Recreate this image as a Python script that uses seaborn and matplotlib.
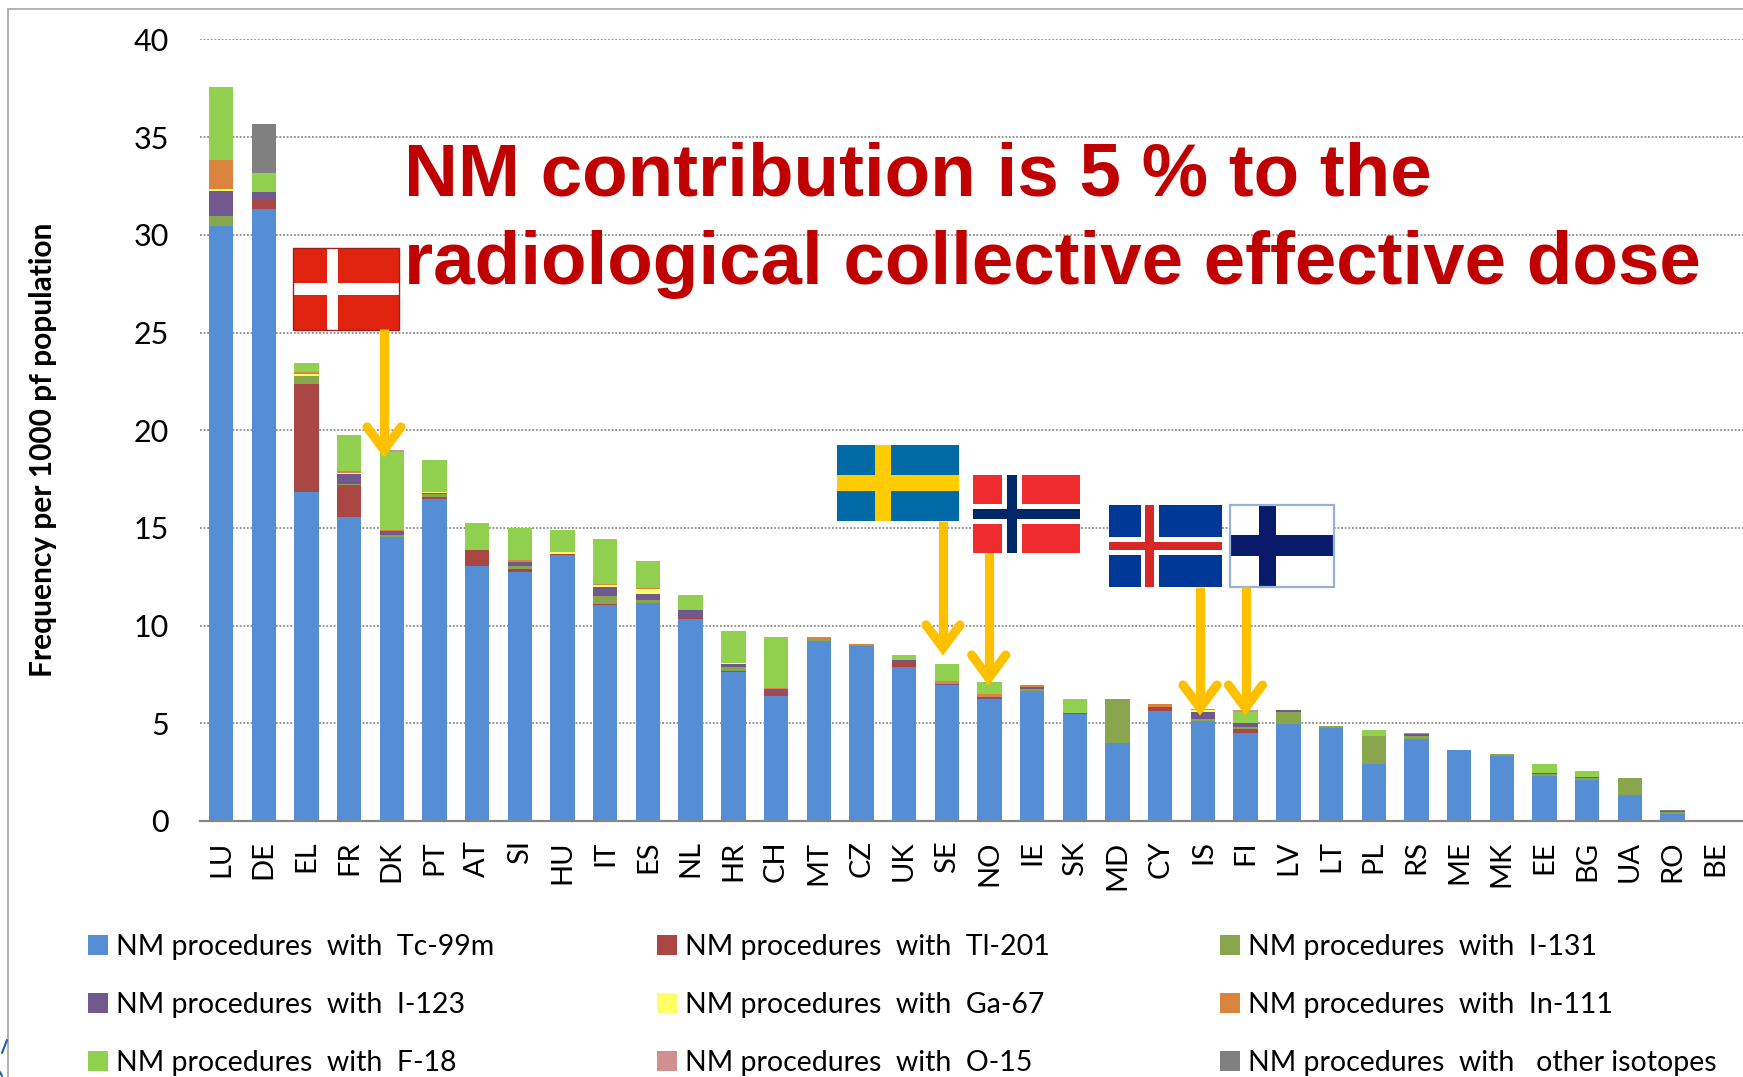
import numpy as np
import matplotlib
matplotlib.use("Agg")
import matplotlib.pyplot as plt
from matplotlib.lines import Line2D
from matplotlib.patches import Patch, Rectangle
from matplotlib.transforms import IdentityTransform
import seaborn as sns

countries = ["LU", "DE", "EL", "FR", "DK", "PT", "AT", "SI", "HU", "IT", "ES", "NL",
             "HR", "CH", "MT", "CZ", "UK", "SE", "NO", "IE", "SK", "MD", "CY", "IS",
             "FI", "LV", "LT", "PL", "RS", "ME", "MK", "EE", "BG", "UA", "RO", "BE"]

tc99m = [30.46, 31.32, 16.86, 15.57, 14.55, 16.49, 13.03, 12.74, 13.61, 11.07, 11.16, 10.35,
         7.6, 6.38, 9.19, 8.98, 7.9, 6.96, 6.24, 6.67, 5.48, 4.01, 5.61, 5.13,
         4.5, 4.95, 4.78, 2.92, 4.21, 3.63, 3.34, 2.32, 2.11, 1.31, 0.37, 0]
tl201 = [0, 0.49, 5.5, 1.63, 0, 0.07, 0.85, 0.16, 0.07, 0.06, 0, 0.06,
         0.08, 0.27, 0, 0, 0.31, 0, 0, 0, 0, 0, 0.24, 0,
         0.21, 0, 0, 0, 0, 0, 0, 0, 0, 0, 0, 0]
i131 = [0.5, 0, 0.41, 0.05, 0.08, 0.17, 0, 0.15, 0, 0.38, 0.15, 0,
        0.22, 0, 0.14, 0, 0, 0, 0, 0.06, 0, 2.23, 0, 0.09,
        0.1, 0.64, 0.08, 1.45, 0.16, 0, 0.09, 0.06, 0.07, 0.89, 0.07, 0]
i123 = [1.28, 0.38, 0, 0.5, 0.21, 0.05, 0, 0.2, 0, 0.49, 0.32, 0.39,
        0.13, 0.1, 0, 0, 0.04, 0.07, 0.12, 0.13, 0.05, 0, 0, 0.36,
        0.21, 0.09, 0, 0, 0.06, 0, 0, 0.08, 0.07, 0, 0.07, 0]
ga67 = [0.1, 0, 0.13, 0.08, 0, 0.07, 0, 0, 0.09, 0.08, 0.24, 0,
        0.08, 0, 0, 0, 0, 0, 0, 0, 0, 0, 0, 0.08,
        0, 0, 0, 0, 0, 0, 0, 0, 0, 0, 0, 0]
in111 = [1.51, 0, 0.1, 0.09, 0.07, 0, 0, 0.12, 0, 0.07, 0.06, 0,
         0, 0.07, 0.09, 0.07, 0, 0.13, 0.16, 0.1, 0, 0, 0.14, 0.07,
         0, 0, 0, 0, 0.07, 0, 0, 0, 0, 0, 0, 0]
f18 = [3.69, 0.97, 0.44, 1.81, 3.99, 1.6, 1.38, 1.62, 1.14, 2.26, 1.39, 0.79,
       1.59, 2.6, 0, 0, 0.23, 0.89, 0.59, 0, 0.71, 0, 0, 0,
       0.57, 0, 0, 0.28, 0, 0, 0, 0.46, 0.31, 0, 0, 0]
o15 = [0, 0, 0, 0, 0.08, 0, 0, 0, 0, 0, 0, 0,
       0, 0, 0, 0, 0, 0, 0, 0, 0, 0, 0, 0,
       0.09, 0, 0, 0, 0, 0, 0, 0, 0, 0, 0, 0]
other = [0, 2.51, 0, 0, 0, 0, 0, 0, 0, 0, 0, 0,
         0, 0, 0, 0, 0, 0, 0, 0, 0, 0, 0, 0,
         0, 0, 0, 0, 0, 0, 0, 0, 0, 0, 0.05, 0]

series = [tc99m, tl201, i131, i123, ga67, in111, f18, o15, other]
labels = ["NM procedures  with  Tc-99m", "NM procedures  with  Tl-201", "NM procedures  with  I-131",
          "NM procedures  with  I-123", "NM procedures  with  Ga-67", "NM procedures  with  In-111",
          "NM procedures  with  F-18", "NM procedures  with  O-15", "NM procedures  with   other isotopes"]
colors = ["#558ED5", "#AA4644", "#89A54E", "#71588F", "#FFFF66", "#DB843D", "#92D050", "#D09090", "#808080"]

W, H = 1743, 1077
sns.set_theme(style="white")
plt.rcParams["font.family"] = ["Lato", "DejaVu Sans"]

fig = plt.figure(figsize=(W / 100, H / 100), dpi=100)
ax = fig.add_axes([199.7 / W, 1 - 821 / H, (W - 199.7) / W, 781.6 / H])

bottom = np.zeros(len(countries))
for vals, col in zip(series, colors):
    sns.barplot(x=countries, y=vals, bottom=bottom, color=col, saturation=1, linewidth=0,
                width=0.57, errorbar=None, ax=ax, zorder=2)
    bottom = bottom + np.array(vals)

ax.set_xlim(-0.5, 35.65)
ax.set_ylim(0, 40)
ax.set_yticks(range(0, 41, 5))
ax.grid(axis="y", linestyle=(0, (1, 1)), color="#8c8c8c", lw=1.3)
ax.set_axisbelow(True)
for side in ["top", "right", "left"]:
    ax.spines[side].set_visible(False)
ax.spines["bottom"].set_color("#868686")
ax.spines["bottom"].set_linewidth(1.6)
ax.tick_params(axis="y", length=0, pad=22, labelsize=22, labelcolor="black")
ax.tick_params(axis="x", length=0, pad=14, labelsize=21, labelcolor="black", labelrotation=90)
ax.set_ylabel("Frequency per 1000 pf population", fontsize=21.5, fontweight="bold", color="black")
ax.yaxis.set_label_coords((57 - 199.7) / (W - 199.7), (821 - 450) / 781.6)

px = IdentityTransform()


def rect(x0, y0, x1, y1, col, **kw):
    # coords are image pixels, y going down
    fig.add_artist(Rectangle((x0, H - y1), x1 - x0, y1 - y0, transform=px, fc=col, ec="none", **kw))


def flag(box, bg, cross, outer=None, inner=None):
    rect(*box, bg)
    if inner:
        rect(inner[0], box[1], inner[1], box[3], outer)
        rect(box[0], inner[2], box[2], inner[3], outer)
    rect(cross[0], box[1], cross[1], box[3], cross[4])
    rect(box[0], cross[2], box[2], cross[3], cross[4])


def arrow(x, y0, tip):
    lw = 6.6
    fig.add_artist(Line2D([x, x], [H - y0, H - tip + 12], transform=px, color="#FFC000", lw=lw,
                          solid_capstyle="butt"))
    fig.add_artist(Line2D([x - 17, x, x + 17], [H - tip + 32, H - tip + 9, H - tip + 32], transform=px,
                          color="#FFC000", lw=lw, solid_capstyle="round", solid_joinstyle="miter"))


# arrows and flags pointing at the nordic countries
arrow(384, 329, 459)
arrow(943, 521, 657)
arrow(988.7, 553, 687)
arrow(1200, 587, 717)
arrow(1245.5, 587, 717)

flag((293, 248, 399, 330), "#E0230F", (326.7, 338.3, 283, 295, "white"))
fig.add_artist(Rectangle((293, H - 330), 106, 82, transform=px, fc="none", ec="#A02020", lw=1))
flag((837, 445, 959, 521), "#006AA7", (875, 890.6, 475, 490.7, "#FECC00"))
flag((973, 475, 1080, 553), "#EF2B2D", (1007, 1016.6, 509, 519, "#002868"),
     outer="white", inner=(1002, 1022, 504, 524))
flag((1109, 505, 1222, 587), "#003897", (1145, 1154, 541.7, 550, "#D72828"),
     outer="white", inner=(1140.6, 1158.5, 536.7, 555))
flag((1230, 505, 1334, 587), "white", (1259, 1275.6, 534.7, 556.3, "#0A1A6B"))
fig.add_artist(Rectangle((1230, H - 587), 104, 82, transform=px, fc="none", ec="#95B3D7", lw=1.6))

# headline
for txt, y in [("NM contribution is 5 % to the", 195), ("radiological collective effective dose", 284)]:
    fig.text(404, H - y, txt, transform=px, family="Liberation Sans", fontweight="bold",
             fontsize=53.7, color="#C00000", va="baseline", ha="left")

# outer frame of the slide
fig.add_artist(Line2D([8, 8], [0, H - 9], transform=px, color="#A6A6A6", lw=1.2))
fig.add_artist(Line2D([8, W], [H - 9, H - 9], transform=px, color="#A6A6A6", lw=1.2))
# bits of a cropped logo at the left edge
fig.add_artist(Line2D([2, 7], [H - 1053, H - 1040], transform=px, color="#1F5FA8", lw=1.5))
fig.add_artist(Line2D([0, 2], [H - 1072, H - 1076], transform=px, color="#1F5FA8", lw=1.5))

# legend, one block per column since rows are read left to right
columns = [(88, [0, 3, 6]), (657, [1, 4, 7]), (1220, [2, 5, 8])]
for x0, idx in columns:
    handles = [Patch(fc=colors[i], ec="none", label=labels[i]) for i in idx]
    fig.legend(handles=handles, loc="upper left", bbox_to_anchor=(x0 / W, 1 - 934 / H), frameon=False,
               fontsize=20.5, handlelength=0.70, handleheight=0.70, handletextpad=0.27,
               labelspacing=1.12, borderpad=0, borderaxespad=0, labelcolor="black")

fig.savefig("out.png", dpi=100)
